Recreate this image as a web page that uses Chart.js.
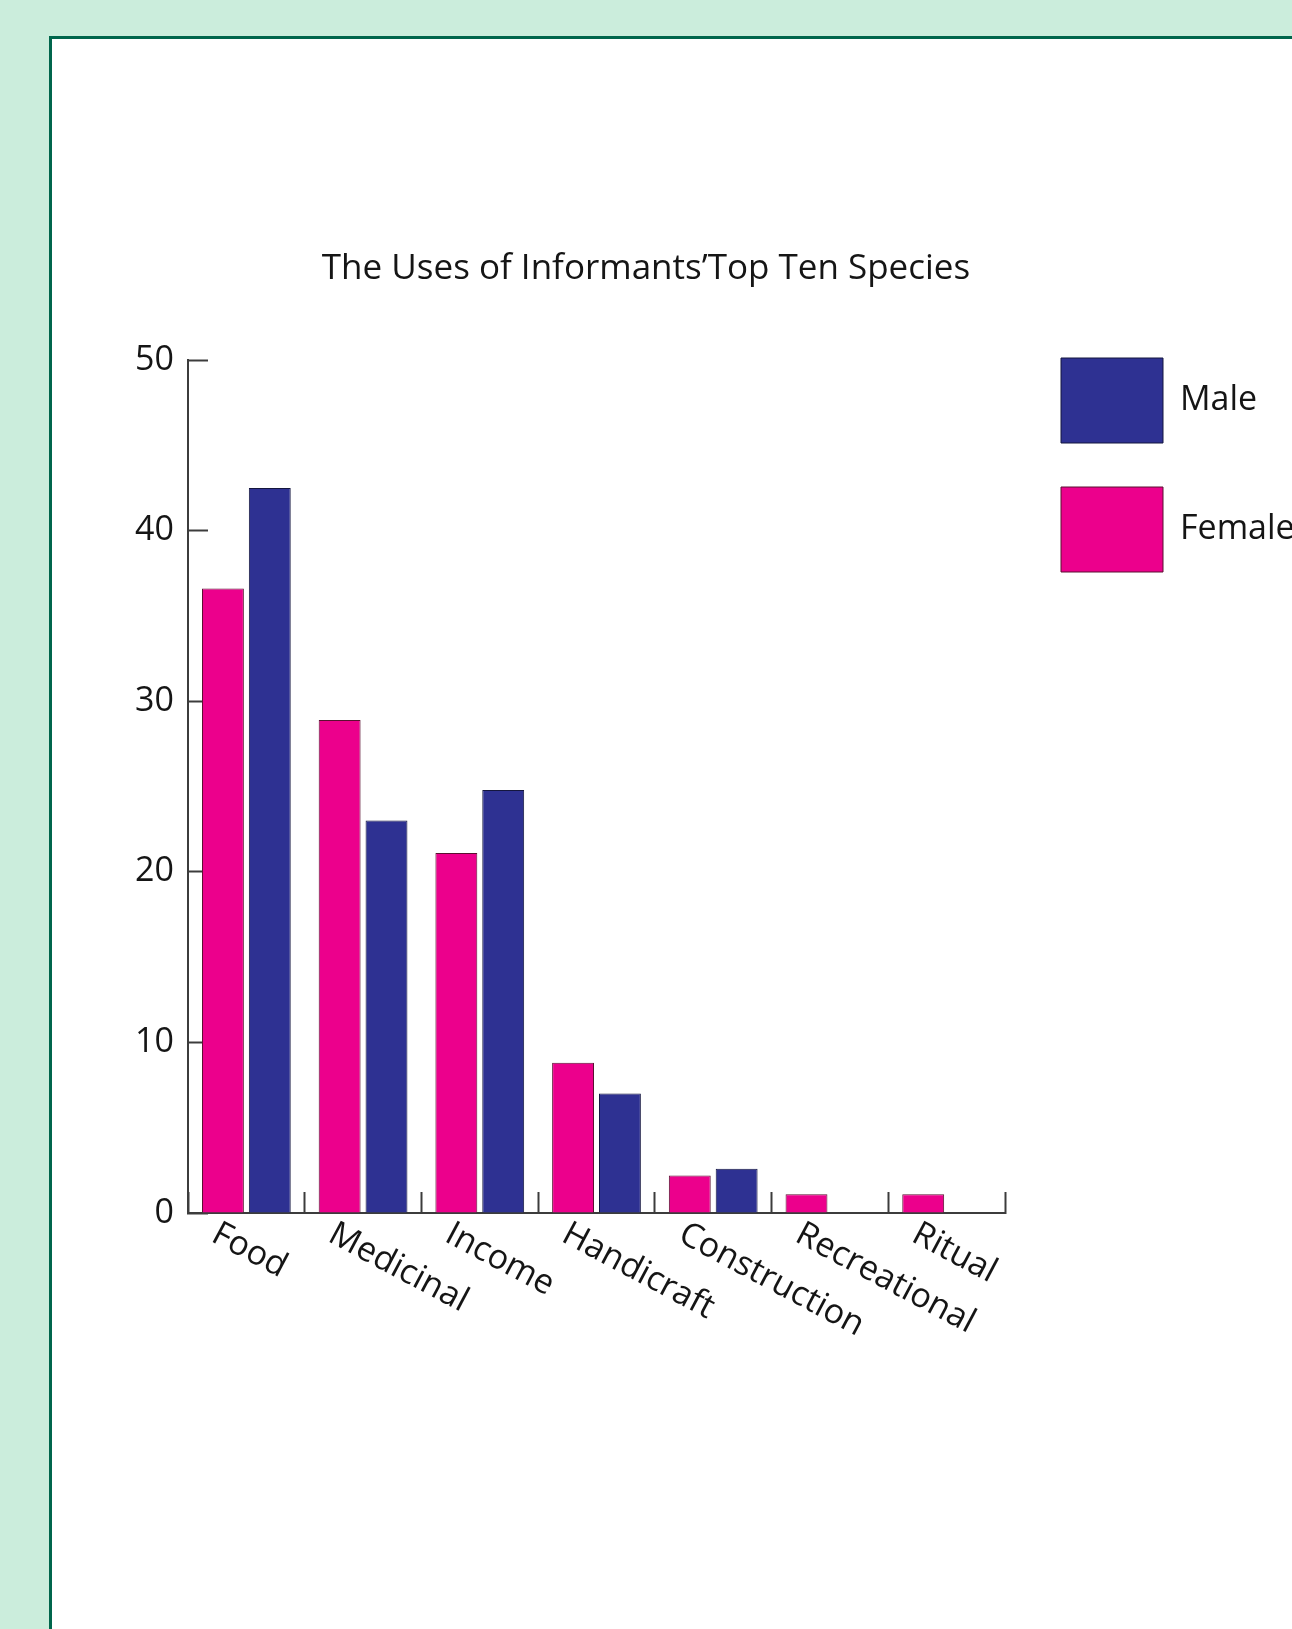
<!DOCTYPE html>
<html>
<head>
<meta charset="utf-8">
<script src="https://cdn.jsdelivr.net/npm/chart.js@4.4.1/dist/chart.umd.min.js"></script>
<style>
  html, body { margin: 0; padding: 0; overflow: hidden; }
  body { width: 1292px; height: 1629px; background: #cbeddc; position: relative; }
  #panel {
    position: absolute; left: 49px; top: 36px; width: 1300px; height: 1700px;
    background: #fff; border: 3px solid #00664c; box-sizing: border-box;
  }
  #chart { position: absolute; left: 0; top: 0; }
</style>
</head>
<body>
<div id="panel"></div>
<canvas id="chart" width="1292" height="1629"></canvas>
<script>
var uses = ['Food', 'Medicinal', 'Income', 'Handicraft', 'Construction', 'Recreational', 'Ritual']
var female = [36.6, 28.9, 21.1, 8.8, 2.2, 1.1, 1.1]
var male = [42.5, 23.0, 24.8, 7.0, 2.6, 0, 0]
var yTicks = [0, 10, 20, 30, 40, 50]

var FONT = "'Open Sans', sans-serif"
var ink = '#151515'
var axisColor = '#3c3c3c'

// slanted category names, drawn under the axis from the scale positions
var slantLabels = {
	id: 'slantLabels',
	afterDraw: function(chart) {
		var ctx = chart.ctx
		var xs = chart.scales.x
		ctx.save()
		ctx.font = '34px ' + FONT
		ctx.fillStyle = ink
		ctx.textAlign = 'left'
		ctx.textBaseline = 'top'
		for (var i = 0; i < uses.length; i++) {
			var px = xs.getPixelForValue(i) - 24
			ctx.save()
			ctx.translate(px, xs.top + 4)
			ctx.rotate(28 * Math.PI / 180)
			ctx.fillText(uses[i], 0, 0)
			ctx.restore()
		}
		ctx.restore()
	}
}

// move the legend so its boxes sit where the original ones are
var legendNudge = {
	id: 'legendNudge',
	afterLayout: function(chart) {
		var lg = chart.legend
		var dy = (chart.chartArea.top - 46) - lg.top
		lg.top += dy
		lg.bottom += dy
		lg.left += 12
		lg.right += 12
	}
}

const ctx = document.getElementById('chart').getContext('2d')
const usesChart = new Chart(ctx, {
	type: 'bar',
	data: {
		labels: uses,
		datasets: [{
			label: 'Female',
			data: female,
			backgroundColor: '#ec008c',
			borderColor: '#5a1030',
			borderWidth: 1
		}, {
			label: 'Male',
			data: male,
			backgroundColor: '#2e3192',
			borderColor: '#14163f',
			borderWidth: 1
		}]
	},
	options: {
		responsive: false,
		animation: false,
		devicePixelRatio: 1,
		categoryPercentage: 0.803,
		barPercentage: 0.894,
		layout: {
			padding: { left: 0, top: 0, right: 0, bottom: 416 }
		},
		scales: {
			x: {
				offset: true,
				afterFit: function(scale) { scale.height = 0 },
				grid: {
					offset: true,
					drawOnChartArea: false,
					drawTicks: true,
					tickLength: -21,
					tickWidth: 2,
					tickColor: axisColor
				},
				border: { display: true, color: axisColor, width: 2 },
				ticks: { display: false }
			},
			y: {
				min: 0,
				max: 50,
				afterFit: function(scale) { scale.width = 188 },
				afterBuildTicks: function(scale) {
					scale.ticks = yTicks.map(function(v) { return { value: v } })
				},
				grid: {
					drawOnChartArea: false,
					drawTicks: true,
					tickLength: -20,
					tickWidth: 2,
					tickColor: axisColor
				},
				border: { display: true, color: axisColor, width: 2 },
				ticks: {
					padding: 34,
					color: ink,
					font: { family: FONT, size: 34 }
				}
			}
		},
		plugins: {
			title: {
				display: true,
				text: 'The Uses of Informants\u2019Top Ten Species',
				color: ink,
				font: { family: FONT, size: 35, weight: 'normal' },
				padding: { top: 248, bottom: 70 }
			},
			legend: {
				position: 'right',
				align: 'start',
				reverse: true,
				maxWidth: 287,
				labels: {
					boxWidth: 102,
					boxHeight: 85,
					padding: 44,
					color: ink,
					font: { family: FONT, size: 34 }
				}
			},
			tooltip: { enabled: false }
		}
	},
	plugins: [slantLabels, legendNudge]
})
</script>
</body>
</html>
